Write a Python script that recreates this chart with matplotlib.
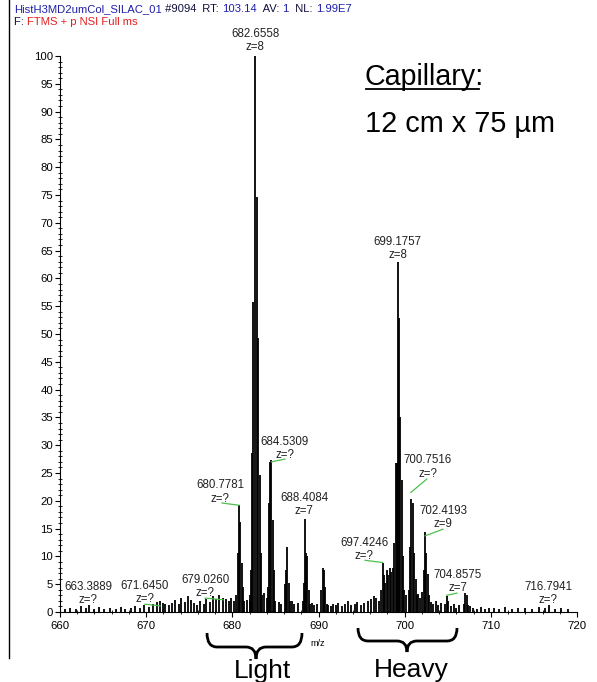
import numpy as np
import matplotlib
matplotlib.use("Agg")
import matplotlib.pyplot as plt
from matplotlib.path import Path
from matplotlib.patches import PathPatch
from matplotlib.lines import Line2D
from matplotlib.ticker import MultipleLocator

plt.rcParams['font.family'] = ['Liberation Sans', 'DejaVu Sans']

# ---- spectrum data (m/z, relative abundance) ----
light_mz = [680.47, 680.62, 680.78, 680.93, 681.09, 681.24, 681.39,
            682.04, 682.15, 682.27, 682.42, 682.66, 682.85, 683.00, 683.16, 683.31, 683.47,
            684.10, 684.22, 684.38, 684.53, 684.69, 684.84, 684.99,
            686.06, 686.22, 686.37, 686.53, 686.68,
            688.15, 688.26, 688.41, 688.57, 688.72, 688.88, 689.03,
            690.32, 690.47, 690.63, 690.78, 690.93]
light_int = [3, 10.6, 19.2, 16.2, 8.8, 4.5, 2,
             2, 7.5, 28.6, 55.8, 100, 74.7, 49.3, 24.6, 10.6, 3,
             4.5, 19.6, 26.9, 27.3, 16.5, 7.5, 2,
             5, 7.5, 11.7, 5.2, 2,
             2, 5.2, 16.8, 10.6, 10.0, 4, 1.5,
             4, 7.9, 7.5, 4.5, 1.5]

heavy_mz = [697.05, 697.24, 697.43, 697.59, 697.74, 697.90, 698.05, 698.25, 698.40,
            698.60, 698.79, 698.94, 699.06, 699.18, 699.33, 699.49, 699.64, 699.79, 699.95,
            700.45, 700.61, 700.76, 700.96, 701.11, 701.26, 701.42,
            702.04, 702.19, 702.35, 702.50, 702.66, 702.81,
            704.70, 704.86, 705.02,
            706.90, 707.03, 707.20, 707.35]
heavy_int = [2, 4, 8.8, 6.7, 5.2, 7.5, 6.7, 8.0, 7.2,
             8, 12.4, 26.8, 26.8, 63, 52.9, 35.1, 23.7, 10, 4,
             4, 11.7, 20.4, 19.6, 10.6, 6, 3,
             3.6, 7.5, 14.4, 10.6, 6.9, 3,
             1.5, 2.9, 2,
             1.5, 3.4, 3.0, 1.2]

noise_mz = [660.6, 661.2, 661.8, 662.4, 663.0, 663.4, 663.9, 664.5, 665.1, 665.8, 666.5, 667.1, 667.6,
            668.2, 668.7, 669.3, 669.8, 670.3, 670.8, 671.3, 671.6, 671.9, 672.2, 672.6, 673.0,
            673.4, 673.8, 674.1, 674.5, 674.9, 675.2, 675.5, 675.9, 676.3, 676.7, 677.0, 677.4,
            677.8, 678.1, 678.5, 678.9, 679.3, 679.6, 679.9, 680.2, 681.7, 682.0, 683.7, 684.0,
            685.4, 685.7, 686.9, 687.2, 687.6, 689.2, 689.5, 689.8, 691.1, 691.4, 691.7, 692.0,
            692.3, 692.7, 693.1, 693.4, 693.8, 694.2, 694.5, 694.9, 695.3, 695.7, 696.1, 696.4,
            696.7, 700.2, 701.6, 701.8, 703.0, 703.3, 703.6, 703.9, 704.2, 705.4, 705.7, 706.0,
            706.3, 707.6, 707.9, 708.4, 708.9, 709.3, 709.8, 710.4, 711.0, 711.6, 712.4, 713.2,
            714.0, 714.8, 715.6, 716.3, 716.8, 717.4, 718.2, 719.0]
noise_int = [0.6, 0.8, 0.5, 1.0, 0.7, 1.2, 0.6, 0.9, 0.5, 0.7, 0.6, 0.9, 0.5,
             0.8, 1.1, 0.7, 1.3, 0.9, 1.5, 1.8, 2.0, 1.7, 1.4, 1.2, 1.6,
             2.2, 1.5, 2.6, 1.8, 2.9, 2.2, 1.6, 1.2, 2.0, 1.5, 2.4, 1.8,
             2.8, 2.3, 3.0, 2.6, 2.4, 1.9, 2.5, 2.0, 2.2, 3.0, 3.5, 2.6,
             1.8, 1.5, 2.0, 1.4, 1.7, 1.6, 1.2, 1.5, 1.3, 1.0, 1.5, 1.2,
             1.6, 1.1, 1.4, 1.9, 1.3, 1.5, 1.8, 1.2, 1.7, 2.0, 2.4, 2.9,
             2.5, 3.0, 3.2, 2.5, 1.8, 1.4, 2.0, 1.2, 1.6, 1.0, 1.4, 0.8,
             1.2, 1.0, 0.8, 0.6, 0.9, 0.5, 0.7, 0.8, 0.6, 0.9, 0.5, 0.7,
             0.8, 0.6, 0.9, 0.7, 1.3, 0.6, 0.8, 0.5]

# peak labels: mass text, charge text, label x, mass-line y
label_mass = ["682.6558", "699.1757", "684.5309", "680.7781", "688.4084", "679.0260",
              "671.6450", "663.3889", "697.4246", "700.7516", "702.4193", "704.8575", "716.7941"]
label_z = ["z=8", "z=8", "z=?", "z=?", "z=7", "z=?", "z=?", "z=?", "z=?", "z=?", "z=9", "z=7", "z=?"]
label_x = [682.66, 699.18, 686.11, 678.57, 688.36, 676.83, 669.86, 663.25, 695.30, 702.71, 704.45, 706.19, 716.63]
label_y = [104.0, 66.6, 30.6, 22.8, 20.5, 5.8, 4.7, 4.5, 12.4, 27.3, 18.2, 6.7, 4.5]

# green connector lines (x0, y0, x1, y1)
conn_x0 = [684.53, 680.78, 678.92, 671.60, 697.43, 700.72, 702.38, 704.88]
conn_y0 = [27.0, 19.2, 2.2, 1.1, 8.9, 21.5, 13.7, 3.0]
conn_x1 = [686.11, 678.80, 676.83, 669.86, 695.40, 702.56, 704.45, 706.07]
conn_y1 = [27.5, 19.6, 2.5, 1.4, 9.3, 23.9, 14.9, 3.4]

W, H = 597, 682
fig = plt.figure(figsize=(W / 100, H / 100), dpi=100)
ax = fig.add_axes([60 / W, 1 - 612 / H, 517 / W, 556 / H])

all_mz = noise_mz + light_mz + heavy_mz
all_int = noise_int + light_int + heavy_int
ax.vlines(all_mz, 0, all_int, color='black', linewidth=1.3)

ax.set_xlim(660, 720)
ax.set_ylim(0, 100)
for s in ['top', 'right']:
    ax.spines[s].set_visible(False)
ax.xaxis.set_major_locator(MultipleLocator(10))
ax.xaxis.set_minor_locator(MultipleLocator(2))
ax.yaxis.set_major_locator(MultipleLocator(5))
ax.yaxis.set_minor_locator(MultipleLocator(1))
ax.tick_params(axis='both', which='major', labelsize=8.2, length=3.5, width=0.8, pad=1.5)
ax.tick_params(axis='x', which='major', pad=3)
ax.tick_params(axis='both', which='minor', direction='inout', length=3, width=0.6)

txt_col = '#222222'
for m, z, x, y in zip(label_mass, label_z, label_x, label_y):
    ax.text(x, y, m, ha='center', va='center', fontsize=8.3, color=txt_col, clip_on=False)
    ax.text(x, y - 2.4, z, ha='center', va='center', fontsize=8.3, color=txt_col, clip_on=False)
for x0, y0, x1, y1 in zip(conn_x0, conn_y0, conn_x1, conn_y1):
    ax.plot([x0, x1], [y0, y1], color='#4cc04c', linewidth=0.9, clip_on=False)

# header lines
blue, dark, red = '#1f1fa8', '#101040', '#e52020'
segs1 = [("HistH3MD2umCol_SILAC_01", blue), (" #9094", dark), ("  RT: ", dark), ("103.14", blue),
         ("  AV: ", dark), ("1", blue), ("  NL: ", dark), ("1.99E7", blue)]
segs2 = [("F: ", dark), ("FTMS + p NSI Full ms", red)]
fig.canvas.draw()
r = fig.canvas.get_renderer()
for segs, py in [(segs1, 9), (segs2, 22)]:
    x = 14
    for s, c in segs:
        t = fig.text(x / W, 1 - py / H, s, fontsize=8.1, color=c, va='center', ha='left')
        x += t.get_window_extent(r).width

# left border line
fig.add_artist(Line2D([9 / W, 9 / W], [1, 1 - 658 / H], color='black', linewidth=1.0))

# capillary annotation
fig.text(365 / W, 1 - 85 / H, "Capillary:", fontsize=20.6, va='baseline', ha='left')
fig.add_artist(Line2D([366 / W, 479 / W], [1 - 89 / H, 1 - 89 / H], color='black', linewidth=1.3))
fig.text(365 / W, 1 - 132 / H, "12 cm x 75 µm", fontsize=20.8, va='baseline', ha='left')

fig.text(318 / W, 1 - 644 / H, "m/z", fontsize=6.5, ha='center', va='center')


def brace(x0, x1, xm, ytop, ymid, ytip, r=10):
    pts = [(x0, ytop), (x0, ymid), (x0 + r, ymid),
           (xm - r, ymid), (xm, ymid), (xm, ytip),
           (xm, ymid), (xm + r, ymid),
           (x1 - r, ymid), (x1, ymid), (x1, ytop)]
    codes = [Path.MOVETO, Path.CURVE3, Path.CURVE3,
             Path.LINETO, Path.CURVE3, Path.CURVE3,
             Path.CURVE3, Path.CURVE3,
             Path.LINETO, Path.CURVE3, Path.CURVE3]
    verts = [(px / W, 1 - py / H) for px, py in pts]
    fig.add_artist(PathPatch(Path(verts, codes), transform=fig.transFigure,
                             fill=False, lw=2, color='black'))


brace(207, 302, 256, 633, 647, 659)
brace(358, 457, 407, 628, 641, 652)
fig.text(263 / W, 1 - 678 / H, "Light", fontsize=19, ha='center', va='baseline')
fig.text(411 / W, 1 - 677 / H, "Heavy", fontsize=19, ha='center', va='baseline')

fig.savefig("out.png", dpi=100)
